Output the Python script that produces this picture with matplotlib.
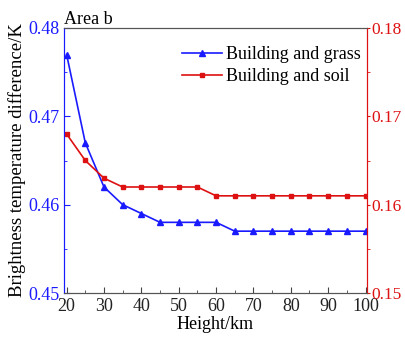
import numpy as np
import matplotlib.pyplot as plt
from matplotlib.ticker import MultipleLocator

plt.rcParams['font.family'] = ['Liberation Serif', 'DejaVu Serif']

# Data
height = [20, 25, 30, 35, 40, 45, 50, 55, 60, 65, 70, 75, 80, 85, 90, 95, 100]
grass = [0.477, 0.467, 0.462, 0.460, 0.459, 0.458, 0.458, 0.458, 0.458,
         0.457, 0.457, 0.457, 0.457, 0.457, 0.457, 0.457, 0.457]
soil = [0.168, 0.165, 0.163, 0.162, 0.162, 0.162, 0.162, 0.162, 0.161,
        0.161, 0.161, 0.161, 0.161, 0.161, 0.161, 0.161, 0.161]

blue = '#1a1aff'
red = '#dd1111'

fig = plt.figure(figsize=(4.06, 3.38), dpi=100)
ax = fig.add_axes([64 / 406, 1 - 293 / 338, (367 - 64) / 406, (293 - 28) / 338])
ax2 = ax.twinx()

l1, = ax.plot(height, grass, color=blue, marker='^', markersize=4, lw=1.2,
              label='Building and grass')
l2, = ax2.plot(height, soil, color=red, marker='s', markersize=3.5, lw=1.2,
               label='Building and soil')

ax.set_xlim(19.3, 100.4)
ax.set_ylim(0.45, 0.48)
ax2.set_ylim(0.15, 0.18)

ax.xaxis.set_major_locator(MultipleLocator(10))
ax.xaxis.set_minor_locator(MultipleLocator(5))
ax.yaxis.set_major_locator(MultipleLocator(0.01))
ax.yaxis.set_minor_locator(MultipleLocator(0.005))
ax2.yaxis.set_major_locator(MultipleLocator(0.01))
ax2.yaxis.set_minor_locator(MultipleLocator(0.005))

ax.tick_params(axis='x', which='both', direction='in', labelsize=13, colors='#444444',
               labelcolor='#222222')
ax.tick_params(axis='x', which='major', length=4)
ax.tick_params(axis='x', which='minor', length=2)
ax.tick_params(axis='y', which='both', direction='in', colors=blue, labelsize=13)
ax.tick_params(axis='y', which='major', length=4)
ax.tick_params(axis='y', which='minor', length=2)
ax2.tick_params(axis='y', which='both', direction='out', colors=red, labelsize=12.5,
                length=2.5, pad=1)

for a in (ax, ax2):
    a.spines['top'].set_color('#555555')
    a.spines['bottom'].set_color('#555555')
    a.spines['left'].set_color(blue)
    a.spines['right'].set_color(red)

ax.set_xlabel('Height/km', fontsize=13, labelpad=1)
ax.set_ylabel('Brightness temperature difference/K', fontsize=13.5, labelpad=1)
ax.set_title('Area b', fontsize=13, loc='left', x=0.0, pad=3)

ax.legend([l1, l2], ['Building and grass', 'Building and soil'], frameon=False,
          fontsize=13, loc='upper right', bbox_to_anchor=(1.02, 0.98),
          handlelength=2.2, handletextpad=0.2, labelspacing=0.3, borderaxespad=0.3)

fig.savefig('out.png', dpi=100)
